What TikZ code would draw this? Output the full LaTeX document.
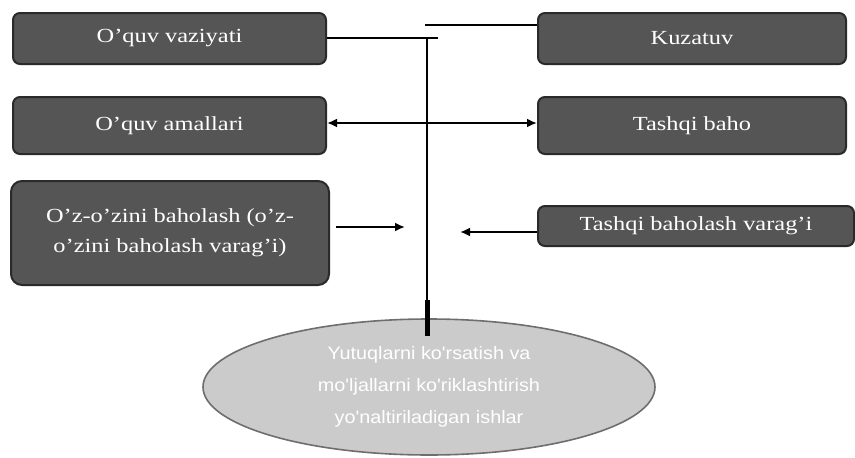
\documentclass[tikz,border=0pt]{standalone}
\usepackage{fontspec}
\setmainfont{Liberation Serif}[FakeStretch=1.22]
\newfontfamily\ellfont{Liberation Sans}[FakeStretch=1.1]
\usetikzlibrary{shapes.geometric,arrows.meta}
\definecolor{boxfill}{HTML}{555555}
\definecolor{boxline}{HTML}{2A2A2A}
\definecolor{ellfill}{HTML}{CBCBCB}
\definecolor{ellline}{HTML}{6E6E6E}
\tikzset{
  darkbox/.style={draw=boxline, line width=2pt, fill=boxfill, rounded corners=7pt,
    text=white, font=\fontsize{20}{30}\selectfont, align=center, inner sep=0pt, anchor=north west},
  conn/.style={line width=2.4pt, black},
  tip/.style={Latex[length=10pt,width=9pt]},
  arr/.style={conn, -{Latex[length=10pt,width=9pt]}},
}
\begin{document}
\begin{tikzpicture}[x=1pt,y=-1pt]
\useasboundingbox (0,0) rectangle (855,458);
\node[darkbox, minimum width=313pt, minimum height=51pt] (vaz) at (12,12) {O'quv vaziyati};
\node[darkbox, minimum width=313pt, minimum height=57pt] (ama) at (12,96) {O'quv amallari};
\node[darkbox, minimum width=318pt, minimum height=104pt, rounded corners=11pt] (oz) at (10,180) {O'z-o'zini baholash (o'z-\\o'zini baholash varag'i)};
\node[darkbox, minimum width=308pt, minimum height=51pt] (kuz) at (537,12) {Kuzatuv};
\node[darkbox, minimum width=308pt, minimum height=57pt] (tb) at (537,96) {Tashqi baho};
\node[darkbox, minimum width=316pt, minimum height=40pt] (tbv) at (537,205) {Tashqi baholash varag'i};
\node[ellipse, draw=ellline, line width=1.6pt, fill=ellfill, minimum width=452pt, minimum height=136pt,
  text=white, font=\ellfont\fontsize{18}{32}\selectfont, align=center, inner sep=0pt] (ell) at (429,387)
  {Yutuqlarni ko'rsatish va\\mo'ljallarni ko'riklashtirish\\yo'naltiriladigan ishlar};
% connectors
\coordinate (t1) at (438,38);
\coordinate (v1) at (427,38);
\coordinate (v2) at (427,300);
\coordinate (v3) at (427,336);
\coordinate (k1) at (425,25);
\draw[conn] (vaz.east |- t1) -- (t1);
\draw[conn] (v1) -- (v2);
\draw[line width=5pt] (v2) -- (v3);
\draw[conn] (k1) -- (kuz.west |- k1);
\draw[conn, {Latex[length=10pt,width=9pt]}-{Latex[length=10pt,width=9pt]}] (ama.east |- 0,123) -- (tb.west |- 0,123);
\coordinate (a1) at (405,227);
\coordinate (a0) at (336,227);
\coordinate (a2) at (460,232);
\draw[arr] (a0) -- (a1);
\draw[arr] (tbv.west |- a2) -- (a2);
\end{tikzpicture}
\end{document}
